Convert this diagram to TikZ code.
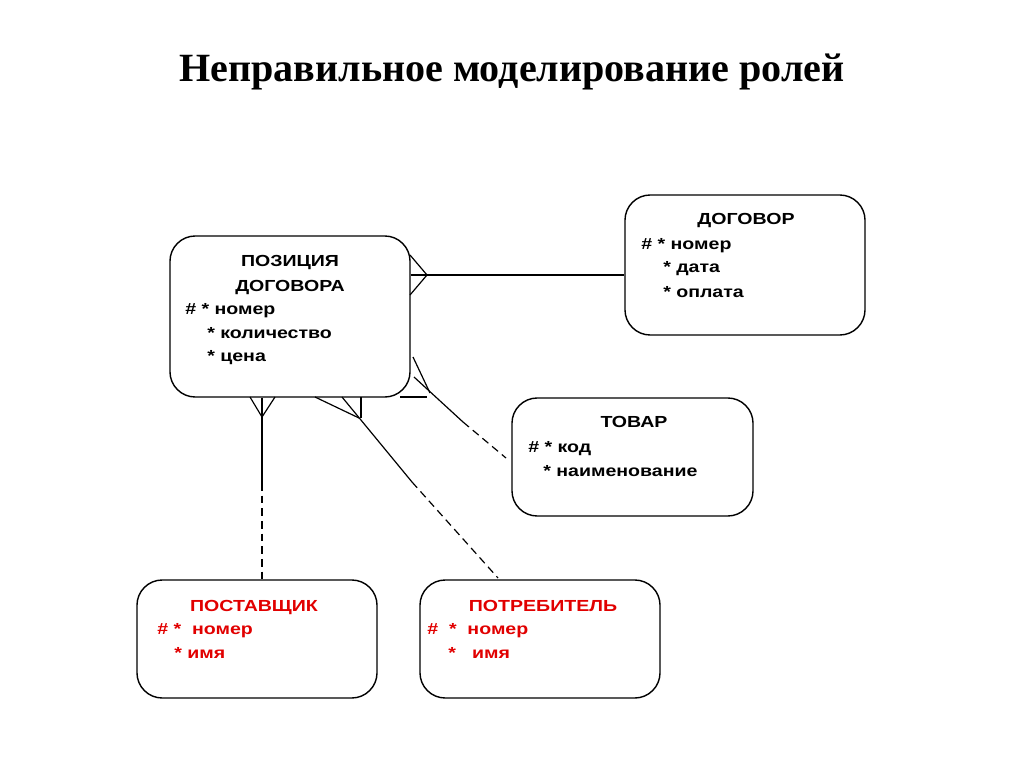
\documentclass[tikz,border=0pt]{standalone}
\usepackage{fontspec}
\setmainfont{Liberation Serif}
\setsansfont[FakeStretch=1.22]{Liberation Sans}
\definecolor{rolered}{RGB}{225,0,0}
\tikzset{
  entity/.style={draw, line width=1pt, rounded corners=18pt, minimum width=6cm, inner sep=0pt},
  field/.style={anchor=base west, inner sep=0pt, font=\sffamily\bfseries\fontsize{11.4}{13}\selectfont},
  ename/.style={anchor=base, inner sep=0pt, font=\sffamily\bfseries\fontsize{11.4}{13}\selectfont},
  rel/.style={line width=0.85pt},
  opt/.style={rel, dash pattern=on 5.5pt off 3.5pt}
}
\begin{document}
\begin{tikzpicture}[x=0.025cm, y=-0.025cm]
  \useasboundingbox (0,0) rectangle (1024,767);

  \node[anchor=base, font=\bfseries\fontsize{28.5}{32}\selectfont] (title) at (512,82) {Неправильное моделирование ролей};

  % entities
  \node[entity, minimum height=4.025cm] (poz) at (290,316.5) {};
  \node[entity, minimum height=3.5cm] (dog) at (745,265) {};
  \node[entity, minimum height=2.95cm, minimum width=6.025cm] (tov) at (632.5,457) {};
  \node[entity, minimum height=2.95cm] (post) at (257,639) {};
  \node[entity, minimum height=2.95cm] (potr) at (540,639) {};

  \node[ename] (pozA) at (290,267) {ПОЗИЦИЯ};
  \node[ename] (pozB) at (290,291) {ДОГОВОРА};
  \node[field] (pozC) at (185,314) {\# * номер};
  \node[field] (pozD) at (207,338) {* количество};
  \node[field] (pozE) at (207,361) {* цена};

  \node[ename] (dogA) at (746,225) {ДОГОВОР};
  \node[field] (dogB) at (641,249) {\# * номер};
  \node[field] (dogC) at (663,273) {* дата};
  \node[field] (dogD) at (663,297) {* оплата};

  \node[ename] (tovA) at (634,427) {ТОВАР};
  \node[field] (tovB) at (528,452) {\# * код};
  \node[field] (tovC) at (543,476) {* наименование};

  \node[ename, text=rolered] (postA) at (254,611) {ПОСТАВЩИК};
  \node[field, text=rolered] (postB) at (157,634) {\# *\ \ номер};
  \node[field, text=rolered] (postC) at (174,658) {* имя};

  \node[ename, text=rolered] (potrA) at (543,611) {ПОТРЕБИТЕЛЬ};
  \node[field, text=rolered] (potrB) at (427,634) {\#\ \ *\ \ номер};
  \node[field, text=rolered] (potrC) at (448,658) {*\ \ \ имя};

  % relationships
  \coordinate (c1) at (427,275);
  \draw[rel] (c1 -| poz.east) -- (c1 -| dog.west);
  \draw[rel] (410,255) -- (c1) -- (410,295);

  \coordinate (c2) at (430,393);
  \coordinate (m2) at (463,422);
  \coordinate (e2) at (506,458);
  \draw[rel] (413,357) -- (c2);
  \draw[rel] (414,377) -- (m2);
  \draw[opt] (m2) -- (e2);
  \draw[rel] (400,397) -- (427,397);

  \coordinate (c3) at (262,417);
  \coordinate (m3) at (262,483);
  \draw[rel] (250,397) -- (c3) -- (275,397);
  \draw[rel] (c3 |- poz.south) -- (m3);
  \draw[opt] (m3) -- (m3 |- post.north);

  \coordinate (c4) at (359,418);
  \coordinate (m4) at (412,482);
  \coordinate (e4) at (498,578);
  \draw[rel] (315,397) -- (c4);
  \draw[rel] (342,397) -- (m4);
  \draw[opt] (m4) -- (e4);
  \draw[rel] (361,397) -- (361,418);
\end{tikzpicture}
\end{document}
